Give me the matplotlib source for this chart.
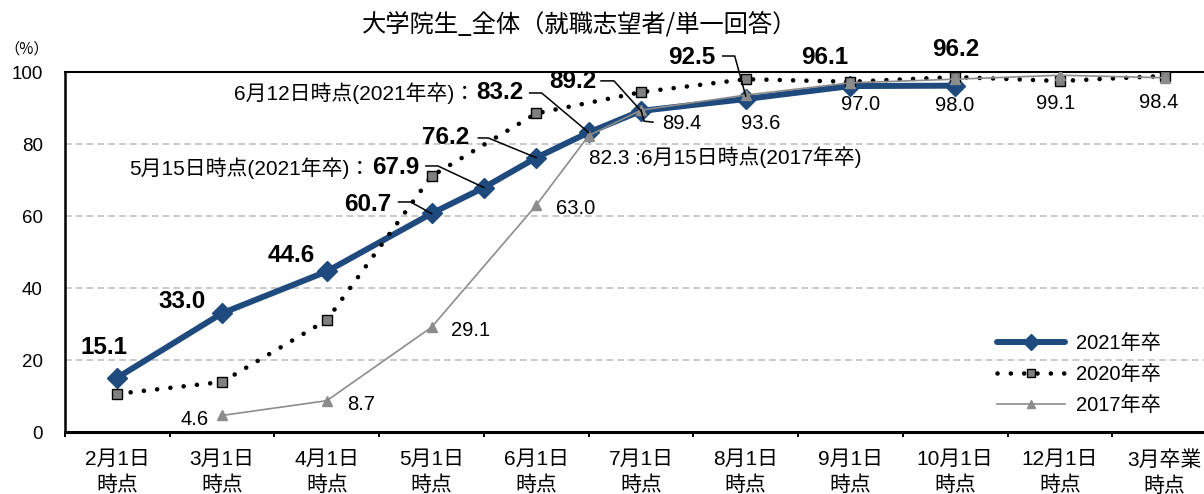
import numpy as np
import matplotlib
matplotlib.use('Agg')
import matplotlib.pyplot as plt

JP = ['Liberation Sans', 'Noto Sans CJK JP', 'DejaVu Sans']
plt.rcParams['font.family'] = JP

# categories (x axis); .5 positions = mid-month surveys (5/15, 6/12, 6/15)
categories = ['2月1日\n時点', '3月1日\n時点', '4月1日\n時点', '5月1日\n時点', '6月1日\n時点',
              '7月1日\n時点', '8月1日\n時点', '9月1日\n時点', '10月1日\n時点', '12月1日\n時点',
              '3月卒業\n時点']

x_2021 = [0, 1, 2, 3, 3.5, 4, 4.5, 5, 6, 7, 8]
y_2021 = [15.1, 33.0, 44.6, 60.7, 67.9, 76.2, 83.2, 89.2, 92.5, 96.1, 96.2]

x_2020 = [0, 1, 2, 3, 4, 5, 6, 7, 8, 9, 10]
y_2020 = [10.6, 13.9, 31.1, 71.1, 88.5, 94.4, 98.0, 97.3, 98.6, 97.5, 98.9]

x_2017 = [1, 2, 3, 4, 4.5, 5, 6, 7, 8, 9, 10]
y_2017 = [4.6, 8.7, 29.1, 63.0, 82.3, 89.4, 93.6, 97.0, 98.0, 99.1, 98.4]

prefix_2021 = {3.5: '5月15日時点(2021年卒)：', 4.5: '6月12日時点(2021年卒)：'}
suffix_2017 = {4.5: ' :6月15日時点(2017年卒)'}

# label offsets in pixels (right edge of the bold number / centre of the normal one)
off_2021 = [(11, 30), (-16, 12), (-12, 16), (-40, 8.5), (-65, 19.6), (-67, 19.7),
            (-65, 39.5), (-45, 29), (-30, 42), (-2, 29), (25, 35.7)]
off_2017 = [(-28, -4), (34, -4), (39, -3), (39, -3), (0, -21), (41, -13),
            (15, -28), (10, -22), (-1, -26), (-4, -28), (-6, -25)]

# leader lines, pixel paths relative to the point
lead_2021 = {3: [(-33, 11.5), (-21, 11.5), (0, 0)],
             3.5: [(-58, 21.6), (-46, 21.6), (0, 0)],
             4: [(-58, 19.7), (-48, 19.7), (0, 0)],
             4.5: [(-59, 39.5), (-47, 39.5), (0, 0)],
             5: [(-40, 30), (-27, 30), (0, 0)],
             6: [(-23, 43), (-11, 43), (0, 3)]}
lead_2017 = {5: [(0, 0), (3, -11), (12, -12)]}

W, H = 1204, 494
fig = plt.figure(figsize=(W / 100, H / 100), dpi=100)
ax = fig.add_axes([65 / W, 62 / H, 1152 / W, 360 / H])

navy = '#1f4a7e'
ax.plot(x_2021, y_2021, color=navy, lw=4.3, marker='D', ms=10, zorder=3,
        solid_capstyle='round', label='2021年卒')
ax.plot(x_2020, y_2020, color='black', lw=3.3, ls=(0, (0.01, 2.9)), dash_capstyle='round',
        marker='s', ms=6.5, mfc='#808080', mec='black', mew=1, zorder=4, label='2020年卒')
ax.plot(x_2017, y_2017, color='#8c8c8c', lw=1.2, marker='^', ms=7, zorder=5, label='2017年卒')

ax.set_xlim(-0.5, 10.5)
ax.set_ylim(0, 100)

ax.set_xticks(np.arange(-0.5, 11, 1))
ax.set_xticklabels([])
ax.set_xticks(np.arange(len(categories)), minor=True)
ax.set_xticklabels(categories, minor=True, fontsize=15)
for lbl in ax.get_xticklabels(minor=True):
    lbl.set_linespacing(1.4)
ax.tick_params(axis='x', which='major', direction='out', length=3.6, width=1.4)
ax.tick_params(axis='x', which='minor', length=0, pad=13)
ax.set_yticks(range(0, 101, 20))
ax.tick_params(axis='y', length=0, pad=16, labelsize=13.5)

ax.grid(axis='y', ls=(0, (4, 2.5)), color='#c0c0c0', lw=1.2)
ax.set_axisbelow(True)
ax.spines['right'].set_visible(False)
ax.spines['left'].set_linewidth(1.8)
ax.spines['bottom'].set_linewidth(2.2)
ax.spines['top'].set_linewidth(1.5)

ux = 1152 / 11
uy = 360 / 100

for i, (x, v) in enumerate(zip(x_2021, y_2021)):
    dx, dy = off_2021[i]
    ha = 'right' if 3 <= i <= 8 else 'center'
    if ha == 'center':
        dx = dx - 24
    t = ax.annotate(f'{v:.1f}', xy=(x, v), xytext=(dx, dy), textcoords='offset pixels',
                    ha=ha, va='center', fontsize=17.5, fontweight='bold', zorder=6)
    if x in prefix_2021:
        ax.annotate(prefix_2021[x], xy=(0, 0.5), xycoords=t, xytext=(-1, 0),
                    textcoords='offset pixels', ha='right', va='center', fontsize=15)
    if x in lead_2021:
        pts = lead_2021[x]
        ax.plot([x + p[0] / ux for p in pts], [v + p[1] / uy for p in pts],
                color='black', lw=1.1, clip_on=False, zorder=6)

for i, (x, v) in enumerate(zip(x_2017, y_2017)):
    dx, dy = off_2017[i]
    if x in suffix_2017:
        ax.annotate(f'{v:.1f}' + suffix_2017[x], xy=(x, v), xytext=(dx, dy),
                    textcoords='offset pixels', ha='left', va='center', fontsize=15)
    else:
        ax.annotate(f'{v:.1f}', xy=(x, v), xytext=(dx, dy), textcoords='offset pixels',
                    ha='center', va='center', fontsize=14.5)
    if x in lead_2017:
        pts = lead_2017[x]
        ax.plot([x + p[0] / ux for p in pts], [v + p[1] / uy for p in pts],
                color='black', lw=1.1, clip_on=False, zorder=6)

ax.legend(loc='center left', bbox_to_anchor=(0.809, 0.16), frameon=False,
          handlelength=3.4, handletextpad=0.5, labelspacing=0.6, fontsize=14.5,
          borderpad=0, borderaxespad=0, numpoints=1, markerscale=0.85)

fig.text(580 / W, 1 - 24 / H, '大学院生_全体（就職志望者/単一回答）', ha='center', va='center',
         fontsize=17.5, family=['Noto Sans CJK JP'])
fig.text(27 / W, 1 - 49 / H, '（%）', ha='center', va='center', fontsize=11,
         family=['Noto Sans CJK JP'])

fig.savefig('out.png', dpi=100)
